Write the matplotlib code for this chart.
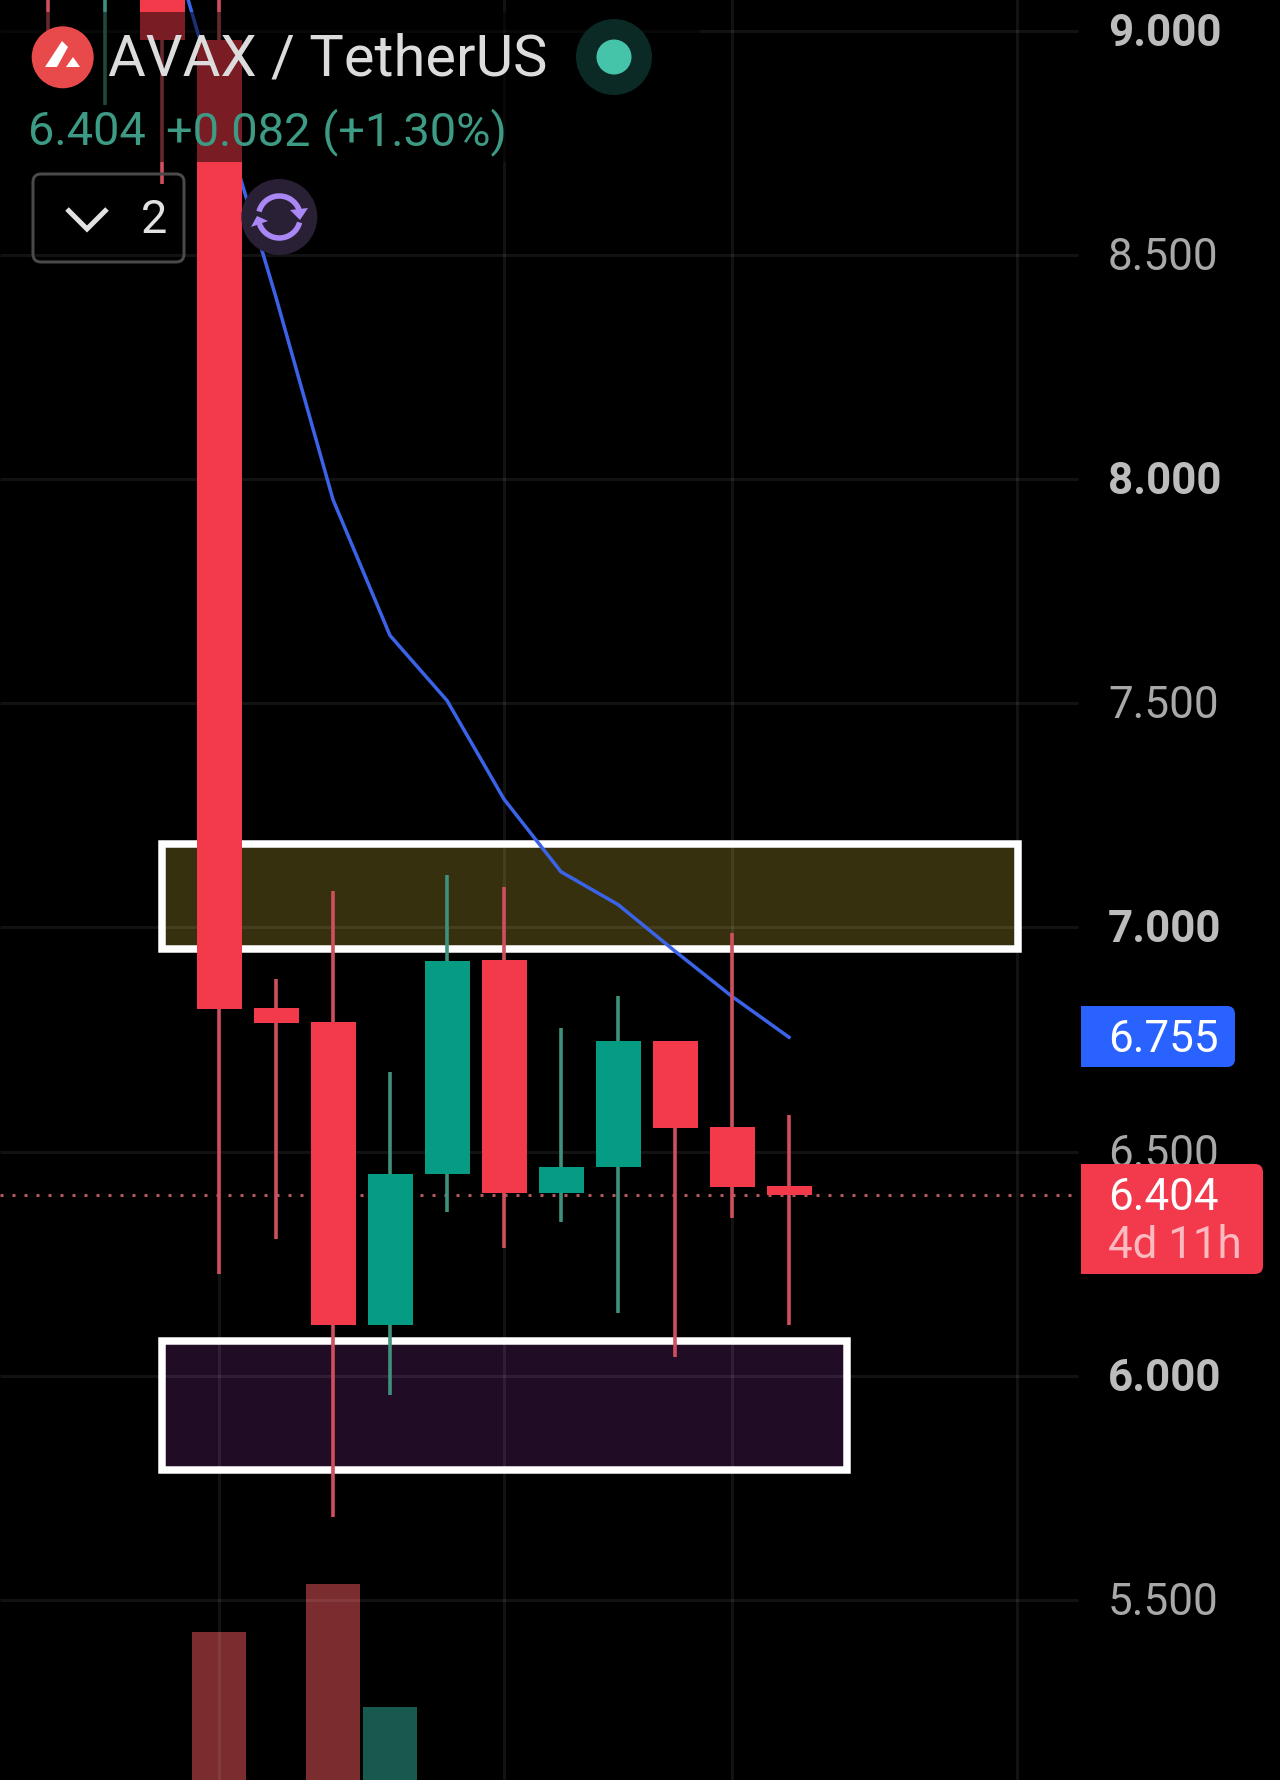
import numpy as np
import matplotlib
matplotlib.use("Agg")
import matplotlib.pyplot as plt
from matplotlib.patches import Rectangle, Circle, Polygon, FancyBboxPatch
from matplotlib.transforms import Affine2D

# ---------- data ----------
bar_index = [-3, -2, -1, 0, 1, 2, 3, 4, 5, 6, 7, 8, 9, 10]
opens  = [9.40, 9.30, 9.25, 8.98, 6.820, 6.790, 6.114, 6.451, 6.927, 6.408, 6.466, 6.747, 6.554, 6.423]
closes = [9.35, 9.40, 8.98, 6.818, 6.787, 6.114, 6.451, 6.924, 6.408, 6.466, 6.747, 6.552, 6.420, 6.404]
highs  = [9.50, 9.50, 9.40, 9.30, 6.886, 7.081, 6.678, 7.116, 7.089, 6.775, 6.848, 6.747, 6.987, 6.582]
lows   = [8.99, 8.835, 8.657, 6.228, 6.304, 5.684, 5.957, 6.365, 6.284, 6.342, 6.139, 6.043, 6.352, 6.114]

ma_index = [-1, 0, 1, 2, 3, 4, 5, 6, 7, 8, 9, 10]
ma_values = [9.27, 8.831, 8.405, 7.954, 7.651, 7.506, 7.286, 7.124, 7.051, 6.947, 6.846, 6.755]

volume_index = [0, 2, 3]
volume_values = [148, 196, 73]
volume_up = [False, False, True]

price_ticks = [9.0, 8.5, 8.0, 7.5, 7.0, 6.5, 6.0, 5.5]
price_labels = ["9.000", "8.500", "8.000", "7.500", "7.000", "6.500", "6.000", "5.500"]
price_bold = [True, False, True, False, True, False, True, False]
time_grid = [0, 5, 9, 14]

resistance_zone = (-1.0, 14.02, 6.952, 7.186)
support_zone = (-1.0, 11.02, 5.79, 6.078)
last_price = 6.404
ma_last = 6.755

# ---------- colours ----------
BG = "#000000"
RED = "#f33a4a"
GREEN = "#069c84"
RED_WICK = "#cf4f5c"
GREEN_WICK = "#3f917e"
LABEL = "#a8a8a8"
LABEL_B = "#bcbcbc"

W, H = 1280, 1781
plt.rcParams["font.family"] = ["Roboto", "DejaVu Sans"]
fig = plt.figure(figsize=(W / 100, H / 100), dpi=100, facecolor=BG)

# pixel space, origin top-left
PX = Affine2D().scale(1, -1).translate(0, H)
def px(v):
    return v * 0.72

X0, DX = 219.0, 57.0
Y6, DY = 1376.8, 448.4
xlim = (-X0 / DX, (W - X0) / DX)
ylim = (6 - (H - Y6) / DY, 6 + Y6 / DY)

ax_vol = fig.add_axes([0, 0, 1, 1], zorder=0, facecolor=BG)
ax_vol.set_xlim(xlim)
ax_vol.set_ylim(0, H)
ax_vol.axis("off")
ax_vol.bar(volume_index, volume_values, width=0.96,
           color=["#17584f" if u else "#7a2c2e" for u in volume_up], linewidth=0)

ax = fig.add_axes([0, 0, 1, 1], zorder=1)
ax.patch.set_alpha(0)
ax.set_xlim(xlim)
ax.set_ylim(ylim)
ax.axis("off")

# zones
def zone(z, face, edge="#ffffff"):
    x0, x1, y0, y1 = z
    ax.add_patch(Rectangle((x0, y0), x1 - x0, y1 - y0, facecolor=face, edgecolor=edge,
                           linewidth=px(7.5), joinstyle="miter", zorder=1))
zone(resistance_zone, "#37300f")
zone(support_zone, "#200c24")

# grid
grid_right = (1078 - X0) / DX
for p in price_ticks:
    ax.plot([xlim[0], grid_right], [p, p], color="#ffffff", alpha=0.075, lw=px(3),
            solid_capstyle="butt", zorder=2)
for t in time_grid:
    ax.plot([t, t], ylim, color="#ffffff", alpha=0.075, lw=px(3),
            solid_capstyle="butt", zorder=2)

# moving average
ax.plot(ma_index, ma_values, color="#3a63e8", lw=px(3.5), zorder=3, solid_joinstyle="round")

# last price line
ax.plot([xlim[0], grid_right - 0.02], [last_price, last_price], color="#b25a5e", lw=px(3),
        linestyle=(0, (1, 3)), dash_capstyle="butt", zorder=3)

# candles
for i, o, c, h, l in zip(bar_index, opens, closes, highs, lows):
    up = c >= o
    ax.plot([i, i], [l, h], color=GREEN_WICK if up else RED_WICK, lw=px(3.6),
            solid_capstyle="butt", zorder=4)
body_bottom = [min(o, c) for o, c in zip(opens, closes)]
body_height = [abs(c - o) for o, c in zip(opens, closes)]
ax.bar(bar_index, body_height, bottom=body_bottom, width=45 / DX, linewidth=0, zorder=5,
       color=[GREEN if c >= o else RED for o, c in zip(opens, closes)])

# translucent header strip
ax.add_patch(Rectangle((0, 13), 700, 150, transform=PX, facecolor="#000000", alpha=0.5,
                       linewidth=0, zorder=6))

# price scale labels
for p, s, b in zip(price_ticks, price_labels, price_bold):
    ypx = 1376.3 - (p - 6) * 448.4
    ax.text(1108, ypx + 14.5, s, transform=PX, ha="left", va="baseline", fontsize=px(44),
            color=LABEL_B if b else LABEL, fontweight="bold" if b else "normal", zorder=7)

# price tags
def tag(x0, x1, y0, y1, color):
    ax.add_patch(FancyBboxPatch((x0, y0), x1 - x0, y1 - y0, transform=PX, facecolor=color,
                                linewidth=0, boxstyle="round,pad=0,rounding_size=8", zorder=8))
    ax.add_patch(Rectangle((x0, y0), 20, y1 - y0, transform=PX, facecolor=color, linewidth=0, zorder=8))
tag(1081, 1235, 1007, 1068, "#2962ff")
tag(1081, 1263, 1165, 1275, "#f23a4c")
ax.text(1108, 1052, f"{ma_last:.3f}", transform=PX, fontsize=px(44), color="#ffffff", va="baseline", zorder=9)
ax.text(1108, 1210, f"{last_price:.3f}", transform=PX, fontsize=px(44), color="#ffffff", va="baseline", zorder=9)
ax.text(1108, 1258, "4d 11h", transform=PX, fontsize=px(44), color="#fcb9c0", va="baseline", zorder=9)

# header
ax.add_patch(Circle((62.7, 58.3), 31, transform=PX, facecolor="#e84a4b", linewidth=0, zorder=9))
ax.add_patch(Polygon([(45, 68), (62, 42), (68, 48), (57, 68)], closed=True, transform=PX,
                     facecolor="#ffffff", linewidth=0, zorder=10))
ax.add_patch(Polygon([(66, 68), (73, 58), (80, 68)], closed=True, transform=PX,
                     facecolor="#ffffff", linewidth=0, zorder=10))
ax.text(108, 76, "AVAX / TetherUS", transform=PX, fontsize=px(57.9), color="#dcdcdc",
        fontweight="normal", va="baseline", zorder=10)
ax.add_patch(Circle((614, 58), 38, transform=PX, facecolor="#0b2a26", linewidth=0, zorder=9))
ax.add_patch(Circle((614, 58), 17.5, transform=PX, facecolor="#45c4a9", linewidth=0, zorder=10))
ax.text(28, 145.5, "6.404", transform=PX, fontsize=px(47), color="#3d9a85", va="baseline", zorder=10)
ax.text(166, 145.5, "+0.082 (+1.30%)", transform=PX, fontsize=px(47), color="#3d9a85", va="baseline", zorder=10)

# collapse button
ax.add_patch(FancyBboxPatch((33, 175), 151, 88, transform=PX, facecolor="none", edgecolor="#4a4a4a",
                            linewidth=px(3), boxstyle="round,pad=0,rounding_size=8", zorder=9))
ax.plot([67, 87, 107], [210, 230, 210], transform=PX, color="#e2e2e2", lw=px(5), zorder=10,
        solid_joinstyle="miter", solid_capstyle="butt")
ax.text(141, 233, "2", transform=PX, fontsize=px(47), color="#e2e2e2", va="baseline", zorder=10)

# refresh icon
cx, cy, r = 279.3, 218, 21
ax.add_patch(Circle((cx, cy), 38, transform=PX, facecolor="#2a2035", linewidth=0, zorder=9))
for a0, a1 in [(195, 340), (15, 165)]:
    th = np.radians(np.linspace(a0, a1, 40))
    ax.plot(cx + r * np.cos(th), cy - r * np.sin(th) * -1, transform=PX, color="#a987f5",
            lw=px(5.5), solid_capstyle="butt", zorder=10)
ax.add_patch(Polygon([(290, 211), (308, 209), (300, 221)], closed=True, transform=PX,
                     facecolor="#a987f5", linewidth=0, zorder=10))
ax.add_patch(Polygon([(251, 228), (257, 217), (268, 222)], closed=True, transform=PX,
                     facecolor="#a987f5", linewidth=0, zorder=10))

fig.savefig("out.png", dpi=100, facecolor=BG)
